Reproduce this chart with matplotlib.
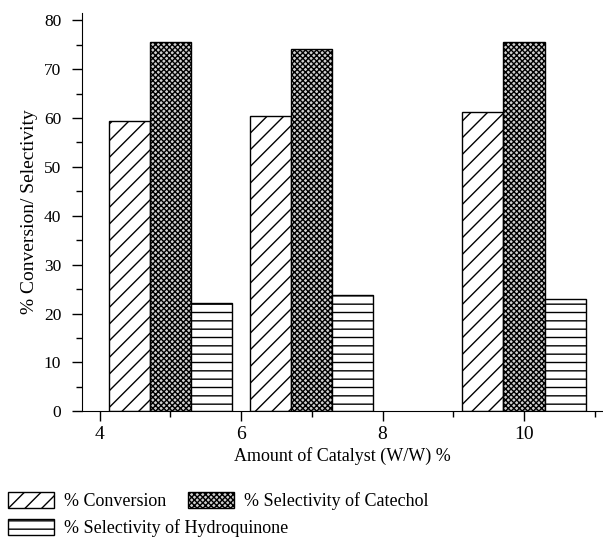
import numpy as np
import matplotlib
matplotlib.use("Agg")
import matplotlib.pyplot as plt
from matplotlib.patches import Patch
from matplotlib.ticker import MultipleLocator

plt.rcParams['font.family'] = 'Liberation Serif'
plt.rcParams['hatch.linewidth'] = 1.0

# data
group_pos = [5, 7, 10]
conversion = [59.3, 60.4, 61.2]
catechol = [75.5, 74.2, 75.5]
hydroquinone = [22.2, 23.8, 22.9]

labels = ['% Conversion', '% Selectivity of Catechol', '% Selectivity of Hydroquinone']
hatches = ['//', 'xxxxxx', '--']
faces = ['white', '#cfcfcf', 'white']

fig = plt.figure(figsize=(6.03, 5.39), dpi=100)
ax = fig.add_axes([0.136, 0.237, 0.862, 0.739])

w = 0.58
x = np.array(group_pos, dtype=float)
series = [conversion, catechol, hydroquinone]
for i, vals in enumerate(series):
    ax.bar(x + (i - 1) * w, vals, width=w, facecolor=faces[i], edgecolor='black',
           hatch=hatches[i], linewidth=1.0)

ax.set_xlim(3.75, 11.1)
ax.set_ylim(0, 81.5)
ax.xaxis.set_major_locator(MultipleLocator(2))
ax.xaxis.set_minor_locator(MultipleLocator(1))
ax.yaxis.set_major_locator(MultipleLocator(10))
ax.yaxis.set_minor_locator(MultipleLocator(5))
ax.spines['top'].set_visible(False)
ax.spines['right'].set_visible(False)
ax.tick_params(axis='both', which='major', labelsize=12.5, length=7, width=1)
ax.tick_params(axis='x', which='major', labelsize=14)
ax.tick_params(axis='both', which='minor', length=4, width=1)
ax.tick_params(axis='y', pad=8)

ax.set_ylabel('% Conversion/ Selectivity', fontsize=14)
ax.set_xlabel('Amount of Catalyst (W/W) %', fontsize=13, labelpad=3)

handles = [Patch(facecolor=faces[i], edgecolor='black', hatch=hatches[i]) for i in range(3)]
leg1 = fig.legend(handles[:2], labels[:2], loc='upper left', bbox_to_anchor=(0.013, 0.087),
                  ncol=2, frameon=False, fontsize=13, handlelength=2.55, handleheight=0.95,
                  handletextpad=0.55, columnspacing=1.2, borderaxespad=0, borderpad=0)
leg2 = fig.legend(handles[2:], labels[2:], loc='upper left', bbox_to_anchor=(0.013, 0.037),
                  frameon=False, fontsize=13, handlelength=2.55, handleheight=0.95,
                  handletextpad=0.55, borderaxespad=0, borderpad=0)

fig.savefig('out.png', dpi=100)
